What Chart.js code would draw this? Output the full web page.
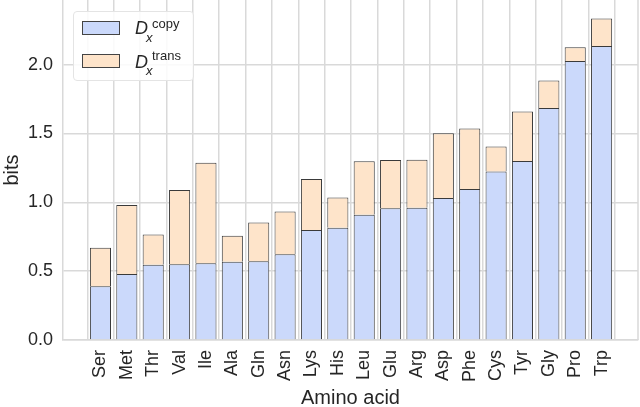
<!DOCTYPE html>
<html>
<head>
<meta charset="utf-8">
<script src="https://cdn.jsdelivr.net/npm/chart.js@4.4.0/dist/chart.umd.min.js"></script>
<style>
  html, body { margin: 0; padding: 0; background: #fff; }
  #wrap { position: relative; width: 640px; height: 407px; }
  #legend {
    position: absolute; left: 73px; top: 11px; width: 119px; height: 68px;
    border: 1px solid #e4e4e4; border-radius: 4px; background: rgba(255,255,255,0.85);
    font-family: "Liberation Sans", Arial, sans-serif; color: #262626;
  }
  #legend .sw { position: absolute; left: 8px; width: 36px; height: 12px; border: 1px solid #444; }
  #legend span { position: absolute; white-space: nowrap; line-height: 1; }
  #legend .big { font-size: 18px; font-style: italic; }
  #legend .small { font-size: 13px; }
</style>
</head>
<body>
<div id="wrap">
  <canvas id="chart1" width="640" height="407"></canvas>
  <div id="legend">
    <div class="sw" style="top:9px;background:#cbd9fb"></div>
    <span class="big" style="left:61px;top:7px">D</span>
    <span class="small" style="left:78px;top:5px">copy</span>
    <span class="small" style="left:72px;top:19px;font-style:italic">x</span>

    <div class="sw" style="top:42px;background:#fee4ca"></div>
    <span class="big" style="left:61px;top:41px">D</span>
    <span class="small" style="left:78px;top:37px">trans</span>
    <span class="small" style="left:72px;top:52px;font-style:italic">x</span>
  </div>
</div>
<script>
// 数据
let aminoAcids = ['Ser', 'Met', 'Thr', 'Val', 'Ile', 'Ala', 'Gln', 'Asn', 'Lys', 'His',
    'Leu', 'Glu', 'Arg', 'Asp', 'Phe', 'Cys', 'Tyr', 'Gly', 'Pro', 'Trp'];
let copyBits = [0.39, 0.48, 0.546, 0.55, 0.558, 0.568, 0.573, 0.623, 0.80, 0.815,
    0.909, 0.957, 0.96, 1.032, 1.097, 1.225, 1.30, 1.686, 2.027, 2.135];
let transBits = [0.28, 0.50, 0.22, 0.54, 0.73, 0.19, 0.28, 0.31, 0.37, 0.22,
    0.39, 0.35, 0.35, 0.47, 0.44, 0.18, 0.36, 0.20, 0.10, 0.20];
let yTicks = [0, 0.5, 1.0, 1.5, 2.0];

let gridColor = '#d9d9d9';
let textColor = '#262626';
let font = 'Liberation Sans';

// 右侧边框
let frame = {
    id: 'frame',
    beforeDatasetsDraw(chart) {
        let a = chart.chartArea, c = chart.ctx;
        c.save();
        c.strokeStyle = gridColor;
        c.lineWidth = 1.5;
        c.beginPath();
        c.moveTo(a.right, a.top);
        c.lineTo(a.right, a.bottom);
        c.stroke();
        c.restore();
    }
};

let ctx1 = document.getElementById('chart1');
let chart1 = new Chart(ctx1, {
    type: 'bar',
    data: {
        datasets: [{
            label: 'copy',
            data: copyBits.map((v, i) => ({x: i, y: v})),
            backgroundColor: '#cbd9fb',
            borderColor: '#3a3a3a',
            borderWidth: 1
        }, {
            label: 'trans',
            data: transBits.map((v, i) => ({x: i, y: v})),
            backgroundColor: '#fee4ca',
            borderColor: '#3a3a3a',
            borderWidth: 1
        }]
    },
    options: {
        responsive: false,
        animation: false,
        barPercentage: 0.8,
        categoryPercentage: 1.0,
        layout: {padding: {top: 0, right: 2, left: 0, bottom: 0}},
        plugins: {legend: {display: false}, tooltip: {enabled: false}},
        scales: {
            x: {
                type: 'linear',
                stacked: true,
                offset: false,
                min: -1.42,
                max: 20.38,
                afterBuildTicks: s => { s.ticks = aminoAcids.map((_, i) => ({value: i})); },
                afterFit: s => { s.height = 67; s.paddingLeft = 0; s.paddingRight = 0; },
                ticks: {
                    autoSkip: false,
                    minRotation: 90,
                    maxRotation: 90,
                    padding: 10,
                    color: textColor,
                    font: {family: font, size: 18},
                    callback: v => aminoAcids[v]
                },
                grid: {color: gridColor, lineWidth: 1.5, drawTicks: false},
                border: {color: gridColor, width: 1.5},
                title: {display: true, text: 'Amino acid', color: textColor,
                    font: {family: font, size: 20}, padding: {top: 0, bottom: -3}}
            },
            y: {
                stacked: true,
                min: 0,
                max: 2.47,
                afterBuildTicks: s => { s.ticks = yTicks.map(v => ({value: v})); },
                afterFit: s => { s.width = 63; s.paddingTop = 0; s.paddingBottom = 0; },
                ticks: {
                    padding: 10,
                    color: textColor,
                    font: {family: font, size: 18},
                    callback: v => v.toFixed(1)
                },
                grid: {color: gridColor, lineWidth: 1.5, drawTicks: false},
                border: {color: gridColor, width: 1.5},
                title: {display: true, text: 'bits', color: textColor,
                    font: {family: font, size: 20}, padding: {top: 0, bottom: 4}}
            }
        }
    },
    plugins: [frame]
});
</script>
</body>
</html>
